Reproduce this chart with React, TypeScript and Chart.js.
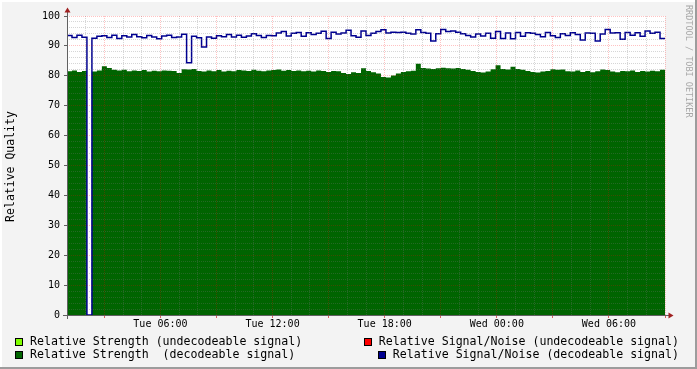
import React, { useEffect, useRef } from 'react';
import { Chart, registerables } from 'chart.js';

Chart.register(...registerables);

// Time range in hours counted from Tue 00:00
const START_HOUR = 1; // Tue 01:00
const END_HOUR = 33; // Wed 09:00

// Relative Strength (decodeable signal), one value per ~16 minute bin
const strengthDecodeable = [
  81.5, 81.8, 81.3, 81.6, 0, 81.4, 81.8, 83.2, 82.6, 82.0,
  81.8, 82.0, 81.5, 81.8, 81.6, 81.9, 81.4, 81.7, 81.5, 81.8,
  81.7, 81.6, 80.9, 82.2, 82.1, 82.3, 81.6, 81.4, 81.8, 81.5,
  81.9, 81.4, 81.7, 81.5, 81.9, 81.8, 81.6, 82.0, 81.7, 81.5,
  81.8, 81.9, 82.1, 81.7, 81.9, 81.6, 81.8, 81.5, 81.7, 81.4,
  81.8, 81.6, 81.3, 81.6, 81.5, 80.9, 80.6, 81.2, 80.9, 82.5,
  81.6, 81.2, 80.8, 79.6, 79.4, 80.1, 80.8, 81.3, 81.5, 81.7,
  84.0, 82.6, 82.4, 82.3, 82.5, 82.7, 82.5, 82.4, 82.6, 82.3,
  82.0, 81.6, 81.3, 81.1, 81.4, 82.2, 83.5, 82.3, 82.1, 83.0,
  82.3, 82.0, 81.6, 81.3, 81.1, 81.4, 81.6, 82.2, 82.0, 82.1,
  81.5, 81.4, 81.8, 81.3, 81.6, 81.2, 81.5, 82.1, 81.9, 81.4,
  81.2, 81.6, 81.5, 81.8, 81.3, 81.6, 81.4, 81.7, 81.5, 82.0,
];

// Relative Signal/Noise (decodeable signal)
const snrDecodeable = [
  93.5, 92.8, 93.6, 92.9, 0, 92.6, 93.2, 93.4, 92.8, 93.6,
  92.5, 93.4, 93.0, 93.8, 93.1, 92.7, 93.5, 93.0, 92.4, 93.3,
  93.6, 92.8, 93.0, 93.9, 84.4, 93.2, 92.7, 89.6, 93.0, 92.6,
  93.4, 93.1, 93.8, 93.0, 93.6, 92.9, 93.3, 94.1, 93.5, 92.8,
  93.5, 93.4, 94.3, 94.8, 93.3, 94.2, 94.5, 93.2, 94.4, 93.8,
  94.2, 94.9, 92.5, 94.6, 94.0, 94.3, 95.2, 93.4, 92.9, 95.0,
  93.5, 94.2, 94.8, 95.4, 94.3, 94.6, 94.5, 94.6, 94.2, 94.0,
  95.4, 94.5, 94.2, 91.6, 94.1, 95.5, 94.8, 95.0, 94.6, 94.1,
  93.5, 93.0, 94.0, 93.3, 94.2, 92.6, 94.8, 92.5, 94.3, 92.4,
  94.5, 93.2, 94.4, 94.2, 93.8, 93.1, 94.5, 93.4, 92.8, 94.1,
  93.5, 94.4, 93.8, 92.0, 94.3, 94.2, 91.6, 94.0, 95.5, 94.3,
  94.4, 92.2, 94.5, 93.6, 94.4, 93.2, 95.0, 94.2, 94.6, 92.5,
];

const xTickHours = [6, 12, 18, 24, 30];
const xTickLabels = ['Tue 06:00', 'Tue 12:00', 'Tue 18:00', 'Wed 00:00', 'Wed 06:00'];

const yAxisTitle = 'Relative Quality';
const watermark = 'RRDTOOL / TOBI OETIKER';

const legendLeftLabels = ['Relative Strength (undecodeable signal)', 'Relative Strength  (decodeable signal)'];
const legendLeftColors = ['#80FF00', '#006400'];
const legendRightLabels = ['Relative Signal/Noise (undecodeable signal)', 'Relative Signal/Noise (decodeable signal)'];
const legendRightColors = ['#FF0000', '#000090'];

const MONO = '"DejaVu Sans Mono", monospace';
const MAJOR_GRID = 'rgba(255,0,0,0.24)';
const MINOR_GRID = 'rgba(120,120,120,0.3)';

function toSteps(values: number[]) {
  const n = values.length;
  const step = (END_HOUR - START_HOUR) / n;
  const pts = values.map((v, i) => ({ x: START_HOUR + i * step, y: v }));
  pts.push({ x: END_HOUR, y: values[n - 1] });
  return pts;
}

const decorPlugin = {
  id: 'rrdDecor',
  beforeDraw(chart: any) {
    const { ctx, chartArea: a } = chart;
    ctx.save();
    ctx.fillStyle = '#f3f3f3';
    ctx.fillRect(0, 0, chart.width, chart.height);
    ctx.fillStyle = '#ffffff';
    ctx.fillRect(a.left, a.top, a.right - a.left, a.bottom - a.top);
    ctx.restore();
  },
  afterDraw(chart: any) {
    const { ctx, chartArea: a } = chart;
    ctx.save();
    // axes
    ctx.strokeStyle = '#606060';
    ctx.lineWidth = 1;
    ctx.beginPath();
    ctx.moveTo(a.left + 0.5, a.bottom + 4);
    ctx.lineTo(a.left + 0.5, a.top - 4);
    ctx.moveTo(a.left - 4, a.bottom + 0.5);
    ctx.lineTo(a.right + 4, a.bottom + 0.5);
    ctx.stroke();
    // arrows
    ctx.fillStyle = '#a02020';
    ctx.beginPath();
    ctx.moveTo(a.left - 2.5, a.top - 3.5);
    ctx.lineTo(a.left + 3.5, a.top - 3.5);
    ctx.lineTo(a.left + 0.5, a.top - 8.5);
    ctx.closePath();
    ctx.fill();
    ctx.beginPath();
    ctx.moveTo(a.right + 3.5, a.bottom - 2.5);
    ctx.lineTo(a.right + 3.5, a.bottom + 3.5);
    ctx.lineTo(a.right + 8.5, a.bottom + 0.5);
    ctx.closePath();
    ctx.fill();

    // y title
    ctx.fillStyle = '#000';
    ctx.font = `11.5px ${MONO}`;
    ctx.textAlign = 'center';
    ctx.textBaseline = 'middle';
    ctx.save();
    ctx.translate(11.5, (a.top + a.bottom) / 2 + 1);
    ctx.rotate(-Math.PI / 2);
    ctx.fillText(yAxisTitle, 0, 0);
    ctx.restore();

    // watermark
    ctx.save();
    ctx.fillStyle = '#a8a8a8';
    ctx.font = `8.5px ${MONO}`;
    ctx.textAlign = 'left';
    ctx.textBaseline = 'middle';
    ctx.translate(688.5, 5);
    ctx.rotate(Math.PI / 2);
    ctx.fillText(watermark, 0, 0);
    ctx.restore();

    // legend
    ctx.font = `11.6px ${MONO}`;
    ctx.textBaseline = 'middle';
    ctx.textAlign = 'left';
    const rows = [341.5, 355];
    const drawBox = (x: number, yc: number, color: string) => {
      const y = Math.round(yc - 4);
      ctx.fillStyle = color;
      ctx.fillRect(x, y, 8, 8);
      ctx.strokeStyle = '#000';
      ctx.lineWidth = 1;
      ctx.strokeRect(x + 0.5, y + 0.5, 7, 7);
    };
    legendLeftLabels.forEach((lab, i) => {
      drawBox(15, rows[i], legendLeftColors[i]);
      ctx.fillStyle = '#000';
      ctx.fillText(lab, 30, rows[i]);
    });
    legendRightLabels.forEach((lab, i) => {
      const w = ctx.measureText(lab).width;
      const tx = 679 - w;
      drawBox(Math.round(tx - 15), rows[i], legendRightColors[i]);
      ctx.fillStyle = '#000';
      ctx.fillText(lab, tx, rows[i]);
    });

    // frame
    ctx.fillStyle = '#ffffff';
    ctx.fillRect(0, 0, chart.width, 2);
    ctx.fillRect(0, 0, 2, chart.height);
    ctx.fillStyle = '#9c9c9c';
    ctx.fillRect(0, chart.height - 2, chart.width, 2);
    ctx.fillRect(chart.width - 2, 0, 2, chart.height);
    ctx.restore();
  },
};

export default function App() {
  const canvasRef = useRef<HTMLCanvasElement | null>(null);

  useEffect(() => {
    if (!canvasRef.current) return;
    Chart.defaults.font.family = MONO;
    const chart = new Chart(canvasRef.current, {
      type: 'line',
      data: {
        datasets: [
          {
            label: legendRightLabels[1],
            data: toSteps(snrDecodeable),
            borderColor: '#000090',
            borderWidth: 1.5,
            pointRadius: 0,
            stepped: true,
            fill: false,
          },
          {
            label: legendLeftLabels[1],
            data: toSteps(strengthDecodeable),
            borderColor: '#006400',
            backgroundColor: '#006400',
            borderWidth: 0,
            pointRadius: 0,
            stepped: true,
            fill: 'origin',
          },
        ],
      },
      options: {
        responsive: false,
        animation: false,
        events: [],
        layout: { padding: { left: 0, top: 16, right: 32, bottom: 0 } },
        plugins: { legend: { display: false }, tooltip: { enabled: false } },
        scales: {
          x: {
            type: 'linear',
            min: START_HOUR,
            max: END_HOUR,
            afterFit: (s: any) => {
              s.height = 54;
            },
            ticks: {
              stepSize: 1,
              autoSkip: false,
              maxRotation: 0,
              minRotation: 0,
              maxTicksLimit: 200,
              padding: 0,
              color: '#000',
              font: { family: MONO, size: 10 },
              callback: (v: any) => {
                const idx = xTickHours.indexOf(Math.round(Number(v)));
                return idx >= 0 ? xTickLabels[idx] : '';
              },
            },
            grid: {
              z: 1,
              lineWidth: 1,
              color: (c: any) => (Math.round(c.tick?.value) % 3 === 0 ? MAJOR_GRID : MINOR_GRID),
              drawTicks: true,
              tickLength: 3,
              tickWidth: 1,
              tickColor: (c: any) => (Math.round(c.tick?.value) % 3 === 0 ? 'rgba(200,0,0,0.6)' : 'rgba(0,0,0,0)'),
            },
            border: { display: false, dash: [1, 1] },
          },
          y: {
            type: 'linear',
            min: 0,
            max: 100,
            afterFit: (s: any) => {
              s.width = 67;
            },
            ticks: {
              stepSize: 2,
              autoSkip: false,
              maxTicksLimit: 200,
              padding: 4,
              color: '#000',
              font: { family: MONO, size: 10 },
              callback: (v: any) => {
                const n = Math.round(Number(v));
                return n % 10 === 0 ? String(n) : '';
              },
            },
            grid: {
              z: 1,
              lineWidth: 1,
              color: (c: any) => (Math.round(c.tick?.value) % 10 === 0 ? MAJOR_GRID : MINOR_GRID),
              drawTicks: true,
              tickLength: 3,
              tickWidth: 1,
              tickColor: (c: any) => (Math.round(c.tick?.value) % 10 === 0 ? '#606060' : 'rgba(0,0,0,0)'),
            },
            border: { display: false, dash: [1, 1] },
          },
        },
      },
      plugins: [decorPlugin],
    } as any);
    return () => chart.destroy();
  }, []);

  return (
    <div style={{ position: 'absolute', left: 0, top: 0, width: 697, height: 369 }}>
      <canvas ref={canvasRef} width={697} height={369} style={{ display: 'block', width: 697, height: 369 }} />
    </div>
  );
}
